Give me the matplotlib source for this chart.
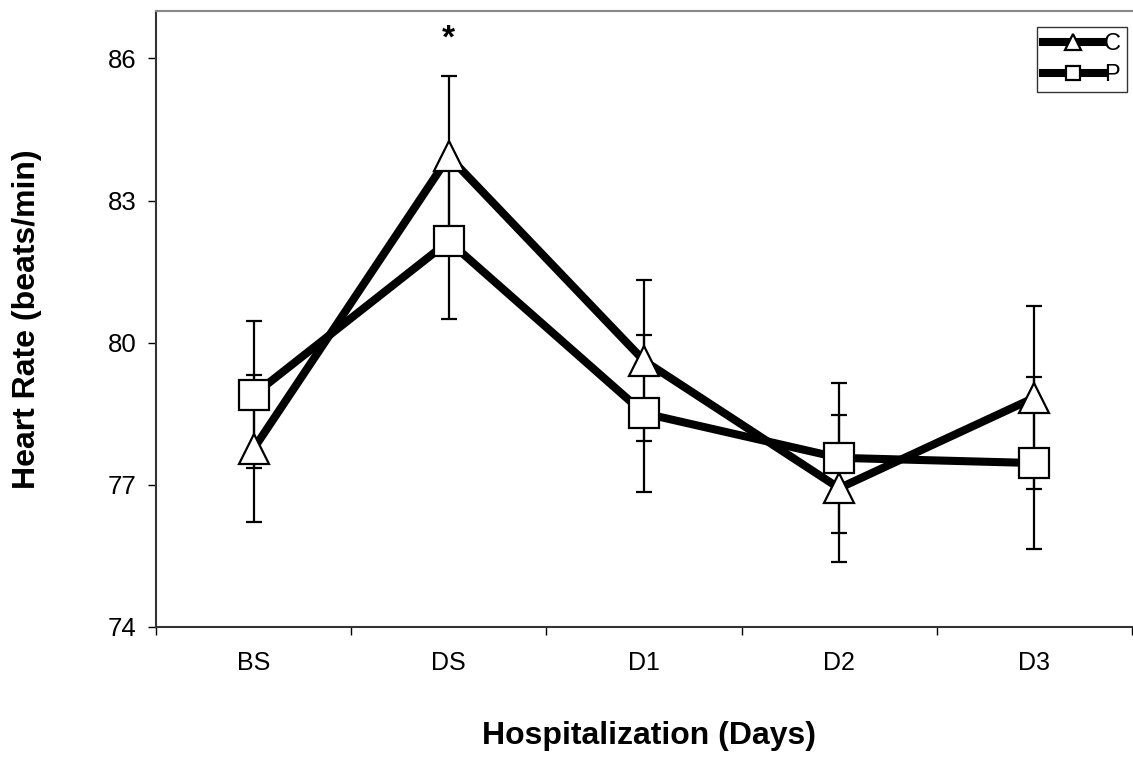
import matplotlib
matplotlib.use("Agg")
import matplotlib.pyplot as plt
from matplotlib.ticker import FixedLocator, NullFormatter

plt.rcParams['font.family'] = ['Liberation Sans', 'DejaVu Sans']

categories = ["BS", "DS", "D1", "D2", "D3"]
c_values = [77.76, 83.93, 79.62, 76.93, 78.84]
c_errors = [1.55, 1.70, 1.70, 1.55, 1.93]
p_values = [78.90, 82.14, 78.51, 77.57, 77.46]
p_errors = [1.55, 1.64, 1.66, 1.58, 1.82]
y_ticks = [74, 77, 80, 83, 86]
sig_index = 1
sig_level = 86.4

fig = plt.figure(figsize=(11.33, 7.6), dpi=100)
ax = fig.add_axes([156/1133, 1 - 627/760, (1132 - 156)/1133, (627 - 11)/760])

x = list(range(len(categories)))

ax.errorbar(x, c_values, yerr=c_errors, fmt='none', ecolor='black',
            elinewidth=1.6, capsize=5.5, capthick=1.6, zorder=2)
ax.errorbar(x, p_values, yerr=p_errors, fmt='none', ecolor='black',
            elinewidth=1.6, capsize=5.5, capthick=1.6, zorder=2)

ax.plot(x, c_values, color='black', linewidth=5.8, marker='^', markersize=22,
        markerfacecolor='white', markeredgecolor='black', markeredgewidth=1.6,
        label='C', zorder=3)
ax.plot(x, p_values, color='black', linewidth=5.8, marker='s', markersize=21,
        markerfacecolor='white', markeredgecolor='black', markeredgewidth=1.6,
        label='P', zorder=4)

ax.text(sig_index, sig_level, '*', ha='center', va='center', fontsize=24,
        fontweight='bold', color='black')

ax.set_xlim(-0.5, len(categories) - 0.5)
ax.set_ylim(74, 87.0)
ax.set_yticks(y_ticks)
ax.set_yticklabels([str(t) for t in y_ticks], fontsize=18.5)
ax.tick_params(axis='y', direction='out', length=6, width=1, pad=8)

ax.xaxis.set_major_locator(FixedLocator([i - 0.5 for i in range(len(categories) + 1)]))
ax.xaxis.set_major_formatter(NullFormatter())
ax.xaxis.set_minor_locator(FixedLocator(x))
ax.set_xticklabels(categories, minor=True, fontsize=18)
ax.tick_params(axis='x', which='major', direction='out', length=6, width=1)
ax.tick_params(axis='x', which='minor', length=0, pad=17)

ax.spines['left'].set_color('#333333')
ax.spines['bottom'].set_color('#333333')
ax.spines['left'].set_linewidth(1.5)
ax.spines['bottom'].set_linewidth(1.5)
ax.spines['top'].set_color('#888888')
ax.spines['top'].set_linewidth(1.5)
ax.spines['right'].set_visible(False)

ax.set_ylabel('Heart Rate (beats/min)', fontsize=23, fontweight='bold')
ax.yaxis.set_label_coords(-0.117, 0.5)
ax.set_xlabel('Hospitalization (Days)', fontsize=23, fontweight='bold', va='top')
ax.xaxis.set_label_coords(0.505, -0.1526)

leg = ax.legend(loc='upper right', bbox_to_anchor=(0.995, 0.974), fontsize=17,
                frameon=True, fancybox=False, edgecolor='black', markerscale=0.5,
                handlelength=2.55, handletextpad=0.05, borderpad=0.25,
                labelspacing=0.4, borderaxespad=0.0)
leg.get_frame().set_linewidth(1.0)

fig.savefig('out.png', dpi=100)
